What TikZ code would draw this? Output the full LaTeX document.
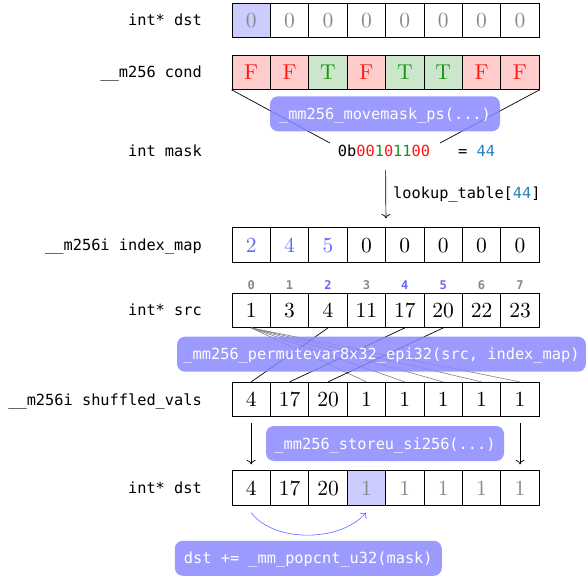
\documentclass[tikz,border=0pt]{standalone}
\usepackage{fontspec}
\newfontfamily\codefont{DejaVu Sans Mono}
\newfontfamily\cellfont{lmroman10-regular.otf}
\usetikzlibrary{calc,arrows.meta}
\definecolor{pill}{RGB}{136,136,255}
\definecolor{hl}{RGB}{204,204,255}
\definecolor{redfill}{RGB}{255,204,204}
\definecolor{greenfill}{RGB}{204,230,204}
\definecolor{tred}{RGB}{255,20,20}
\definecolor{tgreen}{RGB}{20,150,20}
\definecolor{idxblue}{RGB}{102,102,255}
\definecolor{numblue}{RGB}{40,128,190}
\definecolor{dimgray}{RGB}{136,136,136}
\tikzset{
  cell/.style={draw=black, line width=0.8pt, minimum width=38.4pt, minimum height=34.4pt,
    inner sep=0pt, font=\cellfont\fontsize{21.5}{24}\selectfont, text height=14.2pt, text depth=0pt},
  lbl/.style={anchor=east, font=\codefont\fontsize{15.3}{18}\selectfont,
    text height=11.2pt, text depth=0pt, inner sep=0pt},
  codetxt/.style={font=\codefont\fontsize{15.3}{18}\selectfont,
    text height=11.2pt, text depth=0pt, inner sep=0pt},
  pillbox/.style={fill=pill, fill opacity=0.85, text opacity=1, text=white,
    rounded corners=8pt, font=\codefont\fontsize{15.3}{18}\selectfont,
    minimum height=35pt, inner sep=0pt, text height=11.2pt, text depth=0pt},
  idx/.style={font=\codefont\bfseries\fontsize{12}{14}\selectfont, inner sep=0pt},
  wire/.style={line width=0.7pt},
  gwire/.style={line width=0.6pt, draw=gray},
  arr/.style={line width=0.7pt, -{To[length=4.5pt,width=9pt]}},
}
\begin{document}
\begin{tikzpicture}[x=1pt,y=-1pt]
\useasboundingbox (0,0) rectangle (586,577);

% labels
\node[lbl] (l1) at (202,20.3) {int* dst};
\node[lbl] (l2) at (202,72.2) {\_\_m256 cond};
\node[lbl] (l3) at (202,151) {int mask};
\node[lbl] (l4) at (202,245) {\_\_m256i index\_map};
\node[lbl] (l5) at (202,310.3) {int* src};
\node[lbl] (l6) at (202,399.5) {\_\_m256i shuffled\_vals};
\node[lbl] (l7) at (202,488) {int* dst};

% row 1: dst
\foreach \f [count=\i from 0] in {hl,white,white,white,white,white,white,white}
  \node[cell, fill=\f, text=dimgray] (d\i) at ({251.2+38.4*\i},20.3) {0};

% row 2: cond
\foreach \t/\f/\c [count=\i from 0] in {F/redfill/tred,F/redfill/tred,T/greenfill/tgreen,F/redfill/tred,T/greenfill/tgreen,T/greenfill/tgreen,F/redfill/tred,F/redfill/tred}
  \node[cell, fill=\f, text=\c] (c\i) at ({251.2+38.4*\i},72.2) {\t};

% mask
\node[codetxt] (mask) at (384,151) {0b\textcolor{tred}{00}\textcolor{tgreen}{1}\textcolor{tred}{0}\textcolor{tgreen}{11}\textcolor{tred}{00}};
\node[codetxt, anchor=west] (eq) at (458,151) {= \textcolor{numblue}{44}};
\coordinate (mL) at (330,143);
\coordinate (mR) at (440,143);
\draw[wire] (c0.south west) -- (mL);
\draw[wire] (c7.south east) -- (mR);
\node[pillbox, minimum width=230pt] (mv) at (385,113.8) {\_mm256\_movemask\_ps(...)};

% index map
\foreach \v/\c [count=\i from 0] in {2/idxblue,4/idxblue,5/idxblue,0/black,0/black,0/black,0/black,0/black}
  \node[cell, text=\c] (i\i) at ({251.2+38.4*\i},245) {\v};

\coordinate (lk) at (385.6,170);
\draw[arr, shorten >=9pt] (lk) -- (i3.north east);
\node[codetxt, anchor=west] (lkt) at (393,193) {lookup\_table[\textcolor{numblue}{44}]};

% src
\foreach \v [count=\i from 0] in {1,3,4,11,17,20,22,23}
  \node[cell] (s\i) at ({251.2+38.4*\i},310.3) {\v};
\foreach \c [count=\i from 0] in {dimgray,dimgray,idxblue,dimgray,idxblue,idxblue,dimgray,dimgray}
  {\pgfmathtruncatemacro{\n}{\i}
   \node[idx, text=\c] (n\i) at ({251.2+38.4*\i},285) {\n};}

% shuffled
\foreach \v [count=\i from 0] in {4,17,20,1,1,1,1,1}
  \node[cell] (v\i) at ({251.2+38.4*\i},399.5) {\v};

\foreach \j in {3,...,7}
  \draw[gwire] (s0.south) -- (v\j.north);
\draw[wire] (s2.south) -- (v0.north);
\draw[wire] (s4.south) -- (v1.north);
\draw[wire] (s5.south) -- (v2.north);
\node[pillbox, minimum width=409pt] (pm) at (381.5,354.2) {\_mm256\_permutevar8x32\_epi32(src, index\_map)};

% final dst
\node[cell] (f0) at (251.2,488) {4};
\node[cell] (f1) at (289.6,488) {17};
\node[cell] (f2) at (328.0,488) {20};
\node[cell, fill=hl, text=dimgray] (f3) at (366.4,488) {1};
\foreach \i in {4,...,7}
  \node[cell, text=dimgray] (f\i) at ({251.2+38.4*\i},488) {1};

\draw[arr, shorten <=6pt, shorten >=6pt] (v0.south) -- (f0.north);
\draw[arr, shorten <=6pt, shorten >=6pt] (v7.south) -- (f7.north);
\node[pillbox, minimum width=238pt] (st) at (385,443.5) {\_mm256\_storeu\_si256(...)};

\coordinate (cs) at ($(f0.south)+(0,7)$);
\coordinate (ce) at ($(f3.south)+(-0.5,7)$);
\draw[arr, draw=idxblue, line width=0.6pt] (cs) .. controls +(22,30) and +(-25,30) .. (ce);
\node[pillbox, minimum width=267pt] (pc) at (308.3,558.3) {dst += \_mm\_popcnt\_u32(mask)};
\end{tikzpicture}
\end{document}
